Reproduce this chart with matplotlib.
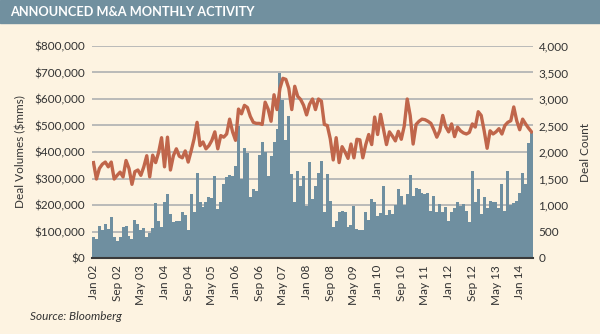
import numpy as np
import matplotlib.pyplot as plt
from matplotlib.patches import Rectangle
from matplotlib.ticker import FuncFormatter

# monthly deal volumes ($000 mms), Jan 2002 - May 2014
volumes = [
    79, 70, 122, 104, 129, 110, 154, 79, 66, 79, 116, 120,        # 2002
    82, 72, 144, 129, 104, 112, 79, 95, 112, 206, 141, 116,       # 2003
    210, 241, 166, 135, 139, 139, 175, 163, 104, 241, 175, 320,   # 2004
    212, 191, 212, 229, 225, 310, 185, 212, 279, 306, 312, 310,   # 2005
    347, 497, 300, 416, 397, 231, 262, 254, 387, 437, 400, 310,   # 2006
    385, 437, 485, 697, 597, 447, 535, 316, 210, 329, 272, 310,   # 2007
    197, 362, 222, 272, 322, 365, 172, 316, 214, 116, 141, 175,   # 2008
    178, 172, 116, 125, 195, 110, 104, 107, 172, 144, 222, 212,   # 2009
    160, 168, 272, 162, 182, 166, 201, 260, 235, 201, 241, 312,   # 2010
    235, 266, 260, 245, 241, 247, 179, 235, 175, 204, 172, 191,   # 2011
    141, 172, 187, 210, 197, 204, 179, 135, 329, 210, 260, 166,   # 2012
    232, 187, 216, 210, 212, 190, 279, 179, 329, 201, 207, 216,   # 2013
    247, 322, 279, 435, 472,                                      # 2014
]
volumes = [v * 1000 for v in volumes]

deal_count = [
    1800, 1490, 1690, 1770, 1810, 1720, 1810, 1490, 1560, 1620, 1530, 1840,
    1690, 1390, 1630, 1660, 1560, 1720, 1930, 1530, 1940, 1800, 1990, 2270,
    1720, 2280, 1660, 1930, 2060, 1920, 1890, 2020, 1810, 2020, 2250, 2560,
    2120, 2190, 2060, 2120, 2220, 2380, 2060, 2310, 2280, 2340, 2620, 2380,
    2220, 2810, 2720, 2880, 2840, 2670, 2560, 2540, 2540, 2520, 2940, 2810,
    2580, 3080, 2800, 3200, 3390, 3370, 3200, 2800, 3240, 3050, 2990, 2880,
    2700, 2900, 3000, 2800, 3000, 2960, 2520, 2500, 2250, 1850, 2270, 1800,
    2100, 2000, 1880, 2150, 1890, 2240, 2230, 1890, 2140, 2330, 2140, 2660,
    2330, 2710, 2420, 2140, 2380, 2300, 2210, 2390, 2240, 2490, 3000, 2690,
    2150, 2520, 2580, 2620, 2610, 2580, 2540, 2420, 2280, 2400, 2690, 2480,
    2380, 2530, 2290, 2470, 2400, 2360, 2340, 2370, 2530, 2470, 2760, 2690,
    2400, 2070, 2400, 2340, 2380, 2440, 2340, 2500, 2560, 2590, 2850, 2590,
    2420, 2620, 2530, 2450, 2380,
]

tick_labels = ['Jan 02', 'Sep 02', 'May 03', 'Jan 04', 'Sep 04', 'May 05', 'Jan 06',
               'Sep 06', 'May 07', 'Jan 08', 'Sep 08', 'May 09', 'Jan 10', 'Sep 10',
               'May 11', 'Jan 12', 'Sep 12', 'May 13', 'Jan 14']

bg = '#fdf3e1'
bar_col = '#6f8fa0'
line_col = '#c0664b'
grid_col = '#a7abae'
txt = '#333333'

plt.rcParams['font.family'] = ['Lato', 'DejaVu Sans']

fig = plt.figure(figsize=(6, 3.34), dpi=100, facecolor=bg)
fig.patches.append(Rectangle((0, 1 - 23 / 334), 1, 23 / 334, transform=fig.transFigure,
                             color='#71909f', zorder=0))
fig.text(10 / 600, 1 - 12 / 334, 'ANNOUNCED M&A MONTHLY ACTIVITY', color='white',
         fontsize=9.2, fontweight='bold', va='center', ha='left')

ax1 = fig.add_axes([92 / 600, 1 - 258 / 334, 441 / 600, 212 / 334])
ax1.set_facecolor(bg)
x = np.arange(len(volumes))
ax1.bar(x, volumes, width=1.0, color=bar_col, linewidth=0, zorder=2)
ax1.set_ylim(0, 800000)
ax1.set_yticks(np.arange(0, 800001, 100000))
ax1.yaxis.set_major_formatter(FuncFormatter(lambda v, p: '${:,.0f}'.format(v)))
ax1.set_xlim(-0.5, len(volumes) - 0.5)
ax1.set_xticks(np.arange(0, len(volumes), 8))
ax1.set_xticklabels(tick_labels, rotation=90)
ax1.grid(axis='y', color=grid_col, linewidth=1.1, zorder=0)
ax1.set_axisbelow(True)
for s in ['top', 'right', 'left']:
    ax1.spines[s].set_visible(False)
ax1.spines['bottom'].set_color('#3a3a3a')
ax1.spines['bottom'].set_linewidth(1.5)
ax1.spines['bottom'].set_zorder(5)
ax1.tick_params(axis='both', length=0, labelsize=8.5, colors=txt, pad=5)
ax1.set_ylabel('Deal Volumes ($mms)', fontsize=8.5, color=txt, labelpad=6)

ax2 = ax1.twinx()
ax2.plot(x, deal_count, color=line_col, linewidth=2.4, zorder=3)
ax2.set_ylim(0, 4000)
ax2.set_yticks(np.arange(0, 4001, 500))
ax2.yaxis.set_major_formatter(FuncFormatter(lambda v, p: '{:,.0f}'.format(v)))
for s in ['top', 'right', 'left', 'bottom']:
    ax2.spines[s].set_visible(False)
ax2.tick_params(axis='y', length=0, labelsize=8.5, colors=txt, pad=4)
ax2.set_ylabel('Deal Count', fontsize=8.5, color=txt, labelpad=8)

fig.text(30 / 600, 1 - 316 / 334, 'Source: Bloomberg', fontsize=8.5, style='italic',
         color=txt, va='center', ha='left')

fig.savefig('out.png', dpi=100, facecolor=bg)
